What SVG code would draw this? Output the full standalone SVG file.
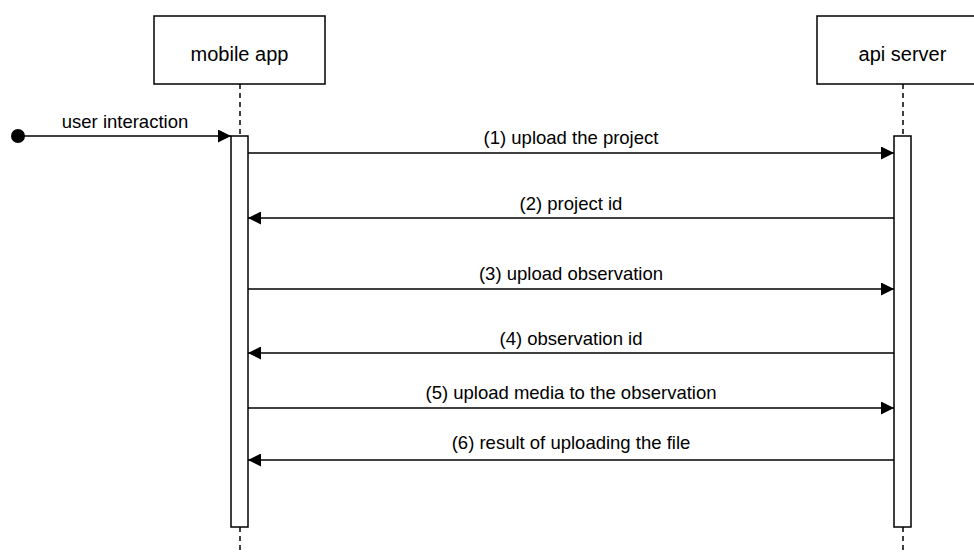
<svg xmlns="http://www.w3.org/2000/svg" width="974" height="554" viewBox="0 0 974 554">
<style>
.box{fill:#fff;stroke:#000;stroke-width:1.5}
.act{fill:#fff;stroke:#000;stroke-width:1.5}
.life{stroke:#000;stroke-width:1.5;stroke-dasharray:5 4;fill:none}
.msg{stroke:#000;stroke-width:1.5;fill:none}
.lbl{font-family:"Liberation Sans",Arial,sans-serif;font-size:20px;fill:#000;text-anchor:middle}
.mlbl{font-family:"Liberation Sans",Arial,sans-serif;font-size:18.5px;fill:#000;text-anchor:middle}
</style>
<defs>
<marker id="arr" viewBox="0 0 13 13" refX="13" refY="6.5" markerWidth="13" markerHeight="13" markerUnits="userSpaceOnUse" orient="auto">
<path d="M0,0 L13,6.5 L0,13 Z" fill="#000"/>
</marker>
</defs>
<rect width="974" height="554" fill="#fff"/>
<g id="mobile-app">
<line class="life" x1="240" y1="84" x2="240" y2="136"/>
<line class="life" x1="240" y1="527" x2="240" y2="554"/>
<rect class="box" x="154" y="16" width="171" height="68"/>
<text class="lbl" x="239.5" y="61">mobile app</text>
<rect class="act" x="231" y="136" width="17" height="391"/>
</g>
<g id="api-server">
<line class="life" x1="903" y1="84" x2="903" y2="136"/>
<line class="life" x1="903" y1="527" x2="903" y2="554"/>
<rect class="box" x="817" y="16" width="171" height="68"/>
<text class="lbl" x="902.5" y="61">api server</text>
<rect class="act" x="894" y="136" width="17" height="391"/>
</g>
<g id="start">
<circle cx="18" cy="136" r="7" fill="#000"/>
</g>
<g id="connectors">
<line class="msg" x1="18" y1="136" x2="231" y2="136" marker-end="url(#arr)"/>
<text class="mlbl" x="125" y="128">user interaction</text>
<line class="msg" x1="248" y1="153" x2="894" y2="153" marker-end="url(#arr)"/>
<text class="mlbl" x="571" y="144">(1) upload the project</text>
<line class="msg" x1="894" y1="218" x2="248" y2="218" marker-end="url(#arr)"/>
<text class="mlbl" x="571" y="210">(2) project id</text>
<line class="msg" x1="248" y1="289" x2="894" y2="289" marker-end="url(#arr)"/>
<text class="mlbl" x="571" y="280">(3) upload observation</text>
<line class="msg" x1="894" y1="353" x2="248" y2="353" marker-end="url(#arr)"/>
<text class="mlbl" x="571" y="345">(4) observation id</text>
<line class="msg" x1="248" y1="408" x2="894" y2="408" marker-end="url(#arr)"/>
<text class="mlbl" x="571" y="399">(5) upload media to the observation</text>
<line class="msg" x1="894" y1="460" x2="248" y2="460" marker-end="url(#arr)"/>
<text class="mlbl" x="571" y="449">(6) result of uploading the file</text>
</g>
</svg>
